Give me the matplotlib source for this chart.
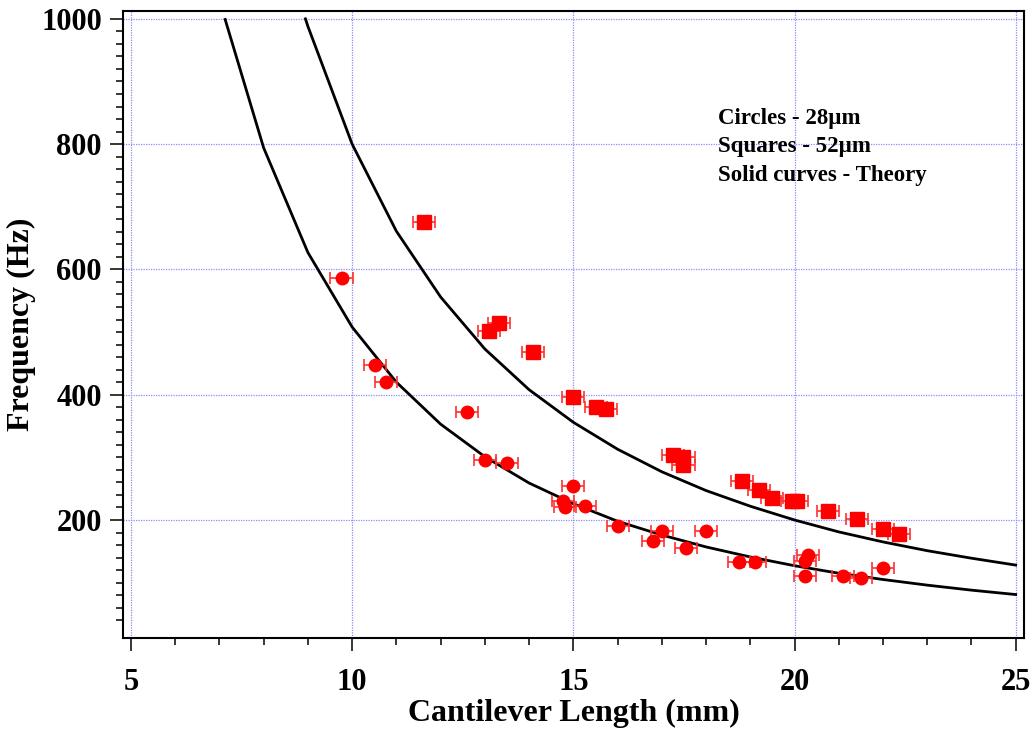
import numpy as np
import matplotlib
matplotlib.use('Agg')
import matplotlib.pyplot as plt
from matplotlib.ticker import FixedLocator

plt.rcParams['font.family'] = ['Liberation Serif', 'DejaVu Serif']
plt.rcParams['font.weight'] = 'bold'

# measured data - 28um cantilevers (circles)
circ_len = [9.76, 10.51, 10.76, 12.6, 13.0, 13.51, 15.0, 14.76, 14.81, 15.26,
            16.0, 17.01, 16.81, 17.54, 18.0, 18.75, 19.11, 20.3, 20.24, 20.24,
            21.1, 21.5, 22.0]
circ_freq = [587, 448, 421, 373, 296, 291, 255, 230, 221, 222,
             190, 182, 166, 156, 182, 133, 133, 144, 134, 110,
             110, 107, 123]

# measured data - 52um cantilevers (squares)
sq_len = [11.62, 13.09, 13.32, 14.08, 15.0, 15.51, 15.74, 17.26, 17.49, 17.49,
          18.81, 19.2, 19.5, 19.94, 20.05, 20.75, 21.41, 22.01, 22.37]
sq_freq = [675, 502, 514, 468, 396, 381, 377, 303, 301, 288,
           262, 248, 235, 231, 231, 214, 201, 185, 177]

len_err = 0.25  # mm

# theory curves
th1_len = [7.13, 8, 9, 10, 11, 12, 13, 14, 15, 16, 17, 18, 19, 20, 21, 22, 23, 24, 25]
th1_freq = [999, 794, 627, 508, 420, 353, 301, 259, 226, 198, 176, 157, 141,
            127, 115, 105, 96, 88, 81]
th2_len = [8.944, 9, 10, 11, 12, 13, 14, 15, 16, 17, 18, 19, 20, 21, 22, 23, 24, 25]
th2_freq = [1000, 988, 800, 661, 556, 473, 408, 356, 313, 277, 247, 222, 200,
            181, 165, 151, 139, 128]

fig = plt.figure(figsize=(10.33, 7.34), dpi=100)
ax = fig.add_axes([0.1194, 0.1312, 0.8719, 0.8538])

ax.plot(th1_len, th1_freq, color='black', lw=2.0, zorder=3)
ax.plot(th2_len, th2_freq, color='black', lw=2.0, zorder=3)

ax.errorbar(circ_len, circ_freq, xerr=len_err, fmt='o', color='#ff0000',
            ms=9, ecolor='#ff3030', elinewidth=1.2, capsize=4.5, capthick=1.2,
            zorder=4)
ax.errorbar(sq_len, sq_freq, xerr=len_err, fmt='s', color='#ff0000',
            ms=10, ecolor='#ff3030', elinewidth=1.2, capsize=4.5, capthick=1.2,
            zorder=4)

ax.set_xlim(4.828, 25.188)
ax.set_ylim(12.1, 1012.5)

ax.set_xticks([5, 10, 15, 20, 25])
ax.set_yticks([200, 400, 600, 800, 1000])
ax.xaxis.set_minor_locator(FixedLocator([v for v in range(6, 25) if v % 5]))
ax.yaxis.set_minor_locator(FixedLocator([v for v in range(40, 1000, 20) if v % 200]))

ax.grid(True, which='major', color='#8c8cff', lw=0.9, ls=(0, (1, 1)))
ax.set_axisbelow(True)

for sp in ax.spines.values():
    sp.set_linewidth(1.5)

ax.tick_params(which='major', direction='out', length=9.5, width=1.1,
               labelsize=22, top=False, right=False)
ax.tick_params(which='minor', direction='out', length=5, width=1.1,
               top=False, right=False)
ax.tick_params(axis='x', which='major', pad=12)
ax.tick_params(axis='y', which='major', pad=6)

ax.set_xlabel('Cantilever Length (mm)', fontsize=23, fontweight='bold', labelpad=2)
ax.set_ylabel('Frequency (Hz)', fontsize=23, fontweight='bold')
ax.yaxis.set_label_coords(-0.097, 0.5)

ax.text(0.660, 0.845, 'Circles - 28\u00b5m\nSquares - 52\u00b5m\nSolid curves - Theory',
        transform=ax.transAxes, fontsize=16.5, fontweight='bold',
        va='top', ha='left', linespacing=1.45)

fig.savefig('out.png', dpi=100)
